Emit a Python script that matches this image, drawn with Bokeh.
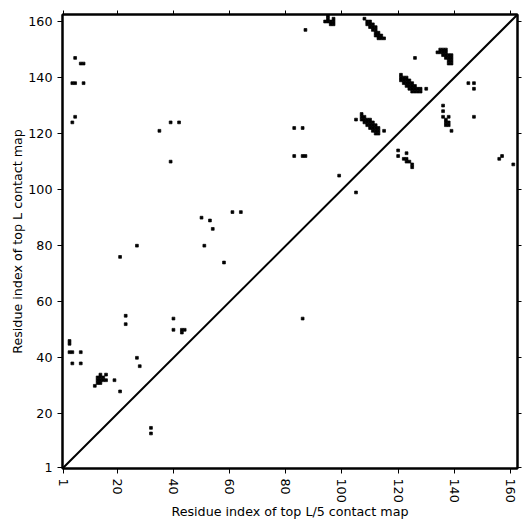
import math
from bokeh.plotting import figure
from bokeh.models import Range1d, FixedTicker, LinearAxis, ColumnDataSource
from bokeh.embed import file_html
from bokeh.resources import INLINE

L = 162
tick_values = [1, 20, 40, 60, 80, 100, 120, 140, 160]
x_title = "Residue index of top L/5 contact map"
y_title = "Residue index of top L contact map"

# contacts above the diagonal (residue i on x, residue j on y)
upper_cells = [
    (3, 45), (3, 46), (3, 42), (4, 42), (7, 42), (4, 38), (7, 38),
    (23, 55), (23, 52), (40, 54), (40, 50), (43, 50), (44, 50), (43, 49),
    (27, 40), (28, 37), (14, 34), (16, 34), (13, 33), (14, 33), (15, 33),
    (13, 32), (14, 32), (15, 32), (16, 32), (13, 31), (14, 31), (12, 30),
    (19, 32), (21, 28),
    (39, 110), (50, 90), (53, 89), (54, 86), (51, 80), (27, 80), (21, 76),
    (99, 105), (61, 92), (64, 92), (58, 74),
    (5, 147), (7, 145), (8, 145), (4, 138), (5, 138), (8, 138), (5, 126),
    (4, 124), (35, 121), (39, 124), (42, 124),
    (87, 157), (95, 162), (95, 161), (95, 160), (94, 160), (96, 160), (97, 160),
    (97, 161), (96, 159), (97, 159), (105, 125), (83, 122), (86, 122),
    (83, 112), (86, 112), (87, 112),
    # band near 108-115 / 154-161
    (108, 161), (109, 160), (110, 160), (109, 159), (110, 159), (111, 159),
    (110, 158), (111, 158), (112, 158), (111, 157), (112, 157),
    (112, 156), (113, 156), (112, 155), (113, 155), (114, 155),
    (113, 154), (114, 154), (115, 154),
    # band near 134-139 / 145-150
    (135, 150), (136, 150), (137, 150), (134, 149), (135, 149), (136, 149), (137, 149),
    (136, 148), (137, 148), (138, 148), (139, 148), (137, 147), (138, 147), (139, 147),
    (138, 146), (139, 146), (138, 145), (139, 145), (126, 147),
    # band near 121-130 / 135-141
    (121, 141), (121, 140), (122, 140), (123, 140),
    (121, 139), (122, 139), (123, 139), (124, 139),
    (122, 138), (123, 138), (124, 138), (125, 138),
    (123, 137), (124, 137), (125, 137), (126, 137),
    (124, 136), (125, 136), (126, 136), (127, 136), (128, 136),
    (125, 135), (126, 135), (127, 135), (128, 135), (130, 136),
    # band near 107-115 / 120-127
    (107, 127), (107, 126), (108, 126),
    (107, 125), (108, 125), (109, 125), (110, 125),
    (108, 124), (109, 124), (110, 124), (111, 124),
    (109, 123), (110, 123), (111, 123), (112, 123),
    (110, 122), (111, 122), (112, 122), (113, 122),
    (111, 121), (112, 121), (113, 121), (112, 120), (113, 120), (115, 121),
]

# contacts below the diagonal
lower_cells = [
    (32, 15), (32, 13), (105, 99), (86, 54),
    (145, 138), (147, 138), (147, 136), (136, 130), (136, 128), (136, 126),
    (138, 126), (137, 125), (137, 124), (138, 124), (137, 123), (138, 123),
    (139, 121), (147, 126), (120, 114), (120, 112), (123, 113),
    (122, 111), (123, 111), (123, 110), (124, 110), (125, 109), (125, 108),
    (156, 111), (157, 112), (161, 109),
]

cells = upper_cells + lower_cells
src = ColumnDataSource(dict(x=[c[0] for c in cells], y=[c[1] for c in cells]))

FONT = "DejaVu Sans"
FS = "12.7px"

p = figure(width=528, height=528, output_backend="svg", toolbar_location=None,
           x_range=Range1d(0.5, L + 0.5), y_range=Range1d(0.5, L + 0.5),
           min_border_left=62, min_border_right=11, min_border_top=14, min_border_bottom=60,
           x_axis_label=x_title, y_axis_label=y_title)
p.background_fill_color = "white"
p.border_fill_color = "white"
p.outline_line_color = "black"
p.outline_line_width = 2
p.xgrid.visible = False
p.ygrid.visible = False

p.rect(x="x", y="y", width=1, height=1, source=src, fill_color="black",
       line_color="black", line_width=0.7)
diag = [0.5, L + 0.5]
p.line(diag, diag, line_color="black", line_width=2)

for ax in (p.xaxis[0], p.yaxis[0]):
    ax.ticker = FixedTicker(ticks=tick_values)
    ax.minor_tick_line_color = None
    ax.major_tick_in = 0
    ax.major_tick_out = 5
    ax.major_tick_line_color = "black"
    ax.axis_line_color = "black"
    ax.axis_line_width = 2
    ax.major_label_text_font = FONT
    ax.major_label_text_font_size = FS
    ax.major_label_text_color = "black"
    ax.axis_label_text_font = FONT
    ax.axis_label_text_font_size = FS
    ax.axis_label_text_font_style = "normal"
    ax.axis_label_text_color = "black"

p.xaxis[0].major_label_orientation = -math.pi / 2
p.xaxis[0].axis_label_standoff = -2
p.yaxis[0].axis_label_standoff = 0

for side in ("above", "right"):
    ax = LinearAxis(ticker=FixedTicker(ticks=tick_values),
                    major_label_overrides={t: "" for t in tick_values})
    ax.minor_tick_line_color = None
    ax.major_tick_in = 0
    ax.major_tick_out = 4
    ax.major_label_standoff = 0
    ax.axis_line_color = "black"
    ax.axis_line_width = 2
    ax.major_label_text_font_size = "1px"
    p.add_layout(ax, side)

open("out.html", "w").write(file_html(p, INLINE))
